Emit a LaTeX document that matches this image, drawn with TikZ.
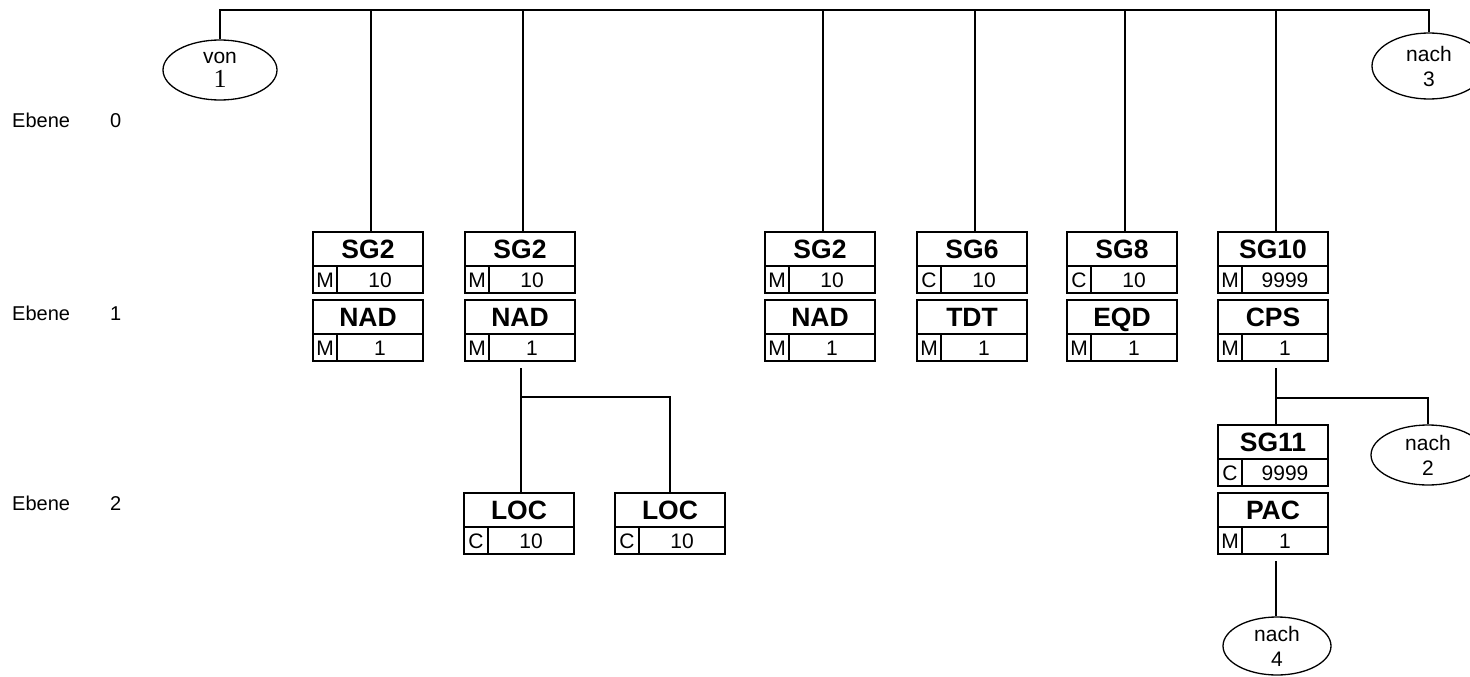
\documentclass[tikz,border=0pt]{standalone}
\usepackage{fontspec}
\setmainfont{Liberation Sans}
\newfontfamily\serifone{Liberation Serif}
\usetikzlibrary{shapes.geometric}
\tikzset{
  ln/.style={line width=1.4pt},
  hdr/.style={draw, line width=1.3pt, minimum width=110pt, minimum height=34pt, inner sep=0pt, outer sep=0pt, anchor=north west, text height=19pt, text depth=0pt, font=\fontsize{26.5}{30}\selectfont\bfseries},
  cellL/.style={draw, line width=1.3pt, minimum width=24pt, minimum height=27pt, inner sep=0pt, outer sep=0pt, anchor=north west, text height=15pt, text depth=0pt, font=\fontsize{21}{24}\selectfont},
  cellV/.style={cellL, minimum width=86pt},
  conn/.style={draw, ellipse, line width=1.3pt, minimum width=114pt, minimum height=60pt, inner sep=0pt, align=center, font=\fontsize{21}{25}\selectfont},
  lbl/.style={anchor=base west, inner sep=0pt, font=\fontsize{20}{22}\selectfont}
}
\newcommand\segbox[6]{%
  \node[hdr] (#1) at (#2,#3) {#4};
  \node[cellL] (#1-l) at (#1.south west) {#5};
  \node[cellV] (#1-v) at (#1-l.north east) {#6};
  \coordinate (#1-top) at ([xshift=3pt]#1.north);
  \coordinate (#1-bot) at ([xshift=3pt]#1.center |- #1-v.south);
}
\begin{document}
\begin{tikzpicture}[x=1pt,y=-1pt]
\useasboundingbox (0,0) rectangle (1470,677);
\clip (0,0) rectangle (1470,677);

% level labels
\node[lbl] (e0) at (12,127) {Ebene};
\node[lbl] (e0n) at (110,127) {0};
\node[lbl] (e1) at (12,320) {Ebene};
\node[lbl] (e1n) at (110,320) {1};
\node[lbl] (e2) at (12,510) {Ebene};
\node[lbl] (e2n) at (110,510) {2};

% connector ellipses
\node[conn] (von) at (220,70) {von\\[-1pt]{\serifone\fontsize{26}{25}\selectfont 1}};
\node[conn, minimum height=66pt] (nach3) at (1429,66) {nach\\3};
\node[conn] (nach2) at (1428,455) {nach\\2};
\node[conn, minimum width=108pt, minimum height=58pt] (nach4) at (1277,646) {nach\\4};

% level 1 boxes
\segbox{a1}{313}{232}{SG2}{M}{10}
\segbox{a2}{313}{300}{NAD}{M}{1}
\segbox{b1}{465}{232}{SG2}{M}{10}
\segbox{b2}{465}{300}{NAD}{M}{1}
\segbox{c1}{765}{232}{SG2}{M}{10}
\segbox{c2}{765}{300}{NAD}{M}{1}
\segbox{d1}{917}{232}{SG6}{C}{10}
\segbox{d2}{917}{300}{TDT}{M}{1}
\segbox{e1}{1067}{232}{SG8}{C}{10}
\segbox{e2}{1067}{300}{EQD}{M}{1}
\segbox{f1}{1218}{232}{SG10}{M}{9999}
\segbox{f2}{1218}{300}{CPS}{M}{1}

% level 2 boxes
\segbox{loc1}{464}{493}{LOC}{C}{10}
\segbox{loc2}{615}{493}{LOC}{C}{10}
\segbox{sg11}{1218}{425}{SG11}{C}{9999}
\segbox{pac}{1218}{493}{PAC}{M}{1}

% top bar
\coordinate (bar) at (0,10);
\draw[ln] (von.north) -- (von.north |- bar) -- (nach3.north |- bar) -- (nach3.north);
\foreach \b in {a1,b1,c1,d1,e1,f1}{
  \draw[ln] (\b-top) -- (\b-top |- bar);
}

% NAD -> LOC
\coordinate (j1) at (0,397);
\path (b2-bot) ++(-2,7) coordinate (b2s);
\draw[ln] (b2s) -- (b2s |- loc1.north);
\draw[ln] (b2s |- j1) -- (j1 -| loc2.north) -- (loc2.north);

% CPS -> SG11, nach 2
\coordinate (j2) at (0,398);
\path (f2-bot) ++(0,7) coordinate (f2s);
\draw[ln] (f2s) -- (f2s |- sg11.north);
\draw[ln] (f2s |- j2) -- (j2 -| nach2.north) -- (nach2.north);

% PAC -> nach 4
\path (pac-bot) ++(0,7) coordinate (pacs);
\draw[ln] (pacs) -- (pacs |- nach4.north);
\end{tikzpicture}
\end{document}
